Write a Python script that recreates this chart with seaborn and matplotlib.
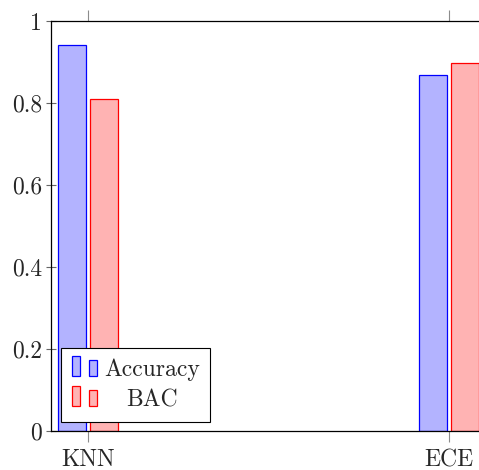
import matplotlib
matplotlib.use("Agg")
import matplotlib.pyplot as plt
from matplotlib.legend_handler import HandlerBase
from matplotlib.patches import Rectangle, Patch
import seaborn as sns
import pandas as pd

# values per method and metric
methods = ["KNN", "ECE"]
accuracy = [0.941, 0.868]
bac = [0.810, 0.897]
metrics = ["Accuracy", "BAC"]
yticks = [0, 0.2, 0.4, 0.6, 0.8, 1]
ytick_labels = ["0", "0.2", "0.4", "0.6", "0.8", "1"]

fills = {"Accuracy": "#b3b3ff", "BAC": "#ffb3b3"}
edges = {"Accuracy": "#0000ff", "BAC": "#ff0000"}

df = pd.DataFrame({
    "method": methods * 2,
    "metric": [metrics[0]] * len(methods) + [metrics[1]] * len(methods),
    "value": accuracy + bac,
})

sns.set_theme(style="white")
plt.rcParams["font.family"] = ["cmr10", "DejaVu Serif"]
plt.rcParams["axes.formatter.use_mathtext"] = True
plt.rcParams["font.size"] = 17

fig = plt.figure(figsize=(4.79, 4.70), dpi=100)
ax = fig.add_axes([51 / 479, 39 / 470, 435 / 479, 410 / 470])

sns.barplot(data=df, x="method", y="value", hue="metric", order=methods,
            hue_order=metrics, palette=fills, saturation=1, width=0.1745,
            gap=0.11, linewidth=0.9, legend=False, ax=ax)
for cont, m in zip(ax.containers, metrics):
    for p in cont.patches:
        p.set_edgecolor(edges[m])
        p.set_linewidth(0.9)

ax.set_xlim(-0.1025, 1.1025)
ax.set_ylim(0, 1)
ax.set_yticks(yticks)
ax.set_yticklabels(ytick_labels)
ax.set_xlabel("")
ax.set_ylabel("")
for s in ax.spines.values():
    s.set_color("black")
    s.set_linewidth(0.9)

ax.tick_params(axis="x", which="both", top=True, bottom=True, direction="out",
               length=8, width=0.8, color="0.55", pad=5, labelsize=17)
ax.tick_params(axis="y", left=True, direction="inout", length=6.5, width=0.8,
               color="0.4", pad=3, labelsize=17)


class TwoBarHandler(HandlerBase):
    """Legend glyph made of two small bars, the second one shorter."""

    def create_artists(self, legend, orig_handle, xdescent, ydescent,
                       width, height, fontsize, trans):
        fc = orig_handle.get_facecolor()
        ec = orig_handle.get_edgecolor()
        bw = 0.34 * fontsize
        arts = []
        for x0, h in [(0.0, 0.85 * fontsize), (0.72 * fontsize, 0.68 * fontsize)]:
            r = Rectangle((x0 - xdescent, -ydescent), bw, h, facecolor=fc,
                          edgecolor=ec, linewidth=0.9, transform=trans)
            arts.append(r)
        return arts


handles = [Patch(facecolor=fills[m], edgecolor=edges[m]) for m in metrics]
leg = ax.legend(handles, metrics, loc="lower left",
                bbox_to_anchor=(10 / 435, 9 / 410), borderaxespad=0,
                handler_map={Patch: TwoBarHandler()}, handlelength=1.06,
                handletextpad=0.3, borderpad=0.45, labelspacing=0.35,
                fancybox=False, frameon=True, framealpha=1, fontsize=17)
leg.get_frame().set_edgecolor("black")
leg.get_frame().set_linewidth(0.8)

# center the legend labels within their column
fig.canvas.draw()
r = fig.canvas.get_renderer()
texts = leg.get_texts()
widths = [t.get_window_extent(r).width for t in texts]
wmax = max(widths)
for t, w in zip(texts, widths):
    t.set_x((wmax - w) / 2)

fig.savefig("out.png", dpi=100)
